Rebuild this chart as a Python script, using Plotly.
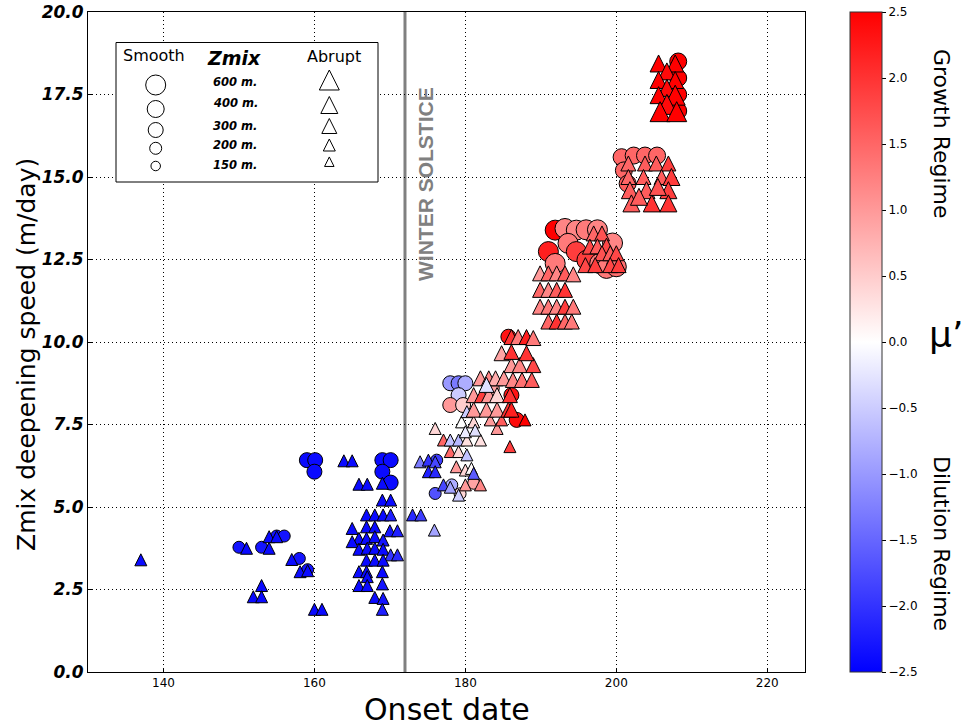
import plotly.graph_objects as go

# ---------------- data ----------------
# Smooth onsets (circles): onset day, deepening speed (m/day), mu', Zmix (m)
smooth_day = [150.0, 153.0, 155.0, 156.0, 158.0, 159.1, 159.0, 160.1, 160.0, 169.0, 170.1, 169.0, 170.1,
              176.2, 176.0, 178.2, 179.3, 181.1,
              178.0, 179.1, 180.0, 179.1, 178.0, 179.7, 183.5, 186.1, 186.8, 185.7,
              191.9, 193.2, 194.7, 196.0, 197.5, 191.0, 191.9, 193.6, 194.7, 196.1, 197.8, 198.7, 200.0, 199.5,
              200.7, 202.3, 203.8, 205.4, 201.0, 201.5,
              208.2, 208.2, 208.2, 208.2]
smooth_speed = [3.78, 3.78, 4.12, 4.12, 3.44, 3.10, 6.42, 6.42, 6.07, 6.42, 6.42, 6.07, 5.74,
                6.42, 5.41, 5.67, 5.40, 5.72,
                8.75, 8.75, 8.75, 8.39, 8.09, 8.09, 8.60, 8.39, 7.64, 10.16,
                13.39, 13.44, 13.39, 13.40, 13.40, 12.74, 12.38, 12.99, 12.74, 12.48, 12.38, 12.23, 12.28, 13.00,
                15.60, 15.65, 15.65, 15.65, 15.20, 14.80,
                18.50, 18.00, 17.50, 17.00]
smooth_mu = [-2.3, -2.3, -2.3, -2.3, -2.3, -2.3, -2.4, -2.4, -2.4, -2.4, -2.4, -2.4, -2.4,
             -1.9, -1.7, -0.8, 0.4, 0.9,
             -1.0, -1.3, -0.8, -0.5, 1.0, 0.5, 0.9, 2.3, 2.4, 2.3,
             2.5, 1.2, 1.2, 1.3, 1.2, 2.2, 1.3, 1.3, 1.9, 1.9, 1.3, 1.3, 1.4, 1.2,
             1.5, 1.5, 1.5, 1.5, 1.5, 1.6,
             2.5, 2.5, 2.5, 2.5]
smooth_zmix = [200, 200, 200, 200, 200, 200, 300, 300, 300, 300, 300, 300, 300,
               200, 200, 200, 200, 200,
               300, 300, 300, 300, 300, 300, 300, 300, 300, 300,
               600, 600, 600, 600, 600, 600, 600, 600, 600, 600, 600, 600, 600, 600,
               400, 400, 400, 400, 400, 400,
               400, 400, 400, 400]

# Abrupt onsets (triangles)
abrupt_day = [137.0, 151.0, 154.0, 154.0, 155.0, 157.0, 158.1, 159.1, 153.0, 151.9, 153.0, 160.0, 161.0,
              163.9, 165.0, 165.9, 167.0, 169.0, 169.0, 170.1, 166.9, 168.0, 169.1, 170.1,
              165.0, 166.9, 168.0, 170.0, 171.0, 165.9, 166.9, 168.0, 169.1, 165.0,
              165.9, 167.0, 168.0, 169.1, 170.1, 171.0, 166.9, 168.0, 169.1, 165.9, 166.9, 169.0,
              167.0, 165.9, 167.0, 169.0, 168.0, 169.1, 169.0, 173.0, 174.1, 175.9,
              174.0, 175.1, 176.0, 175.1, 176.0, 177.1, 178.0, 179.1, 180.0, 182.0,
              178.8, 180.0, 180.8, 181.1, 178.0, 179.1, 180.2, 176.0, 177.1, 178.0, 179.1, 180.2, 182.0,
              179.5, 181.1, 180.0, 181.3, 184.2, 183.3, 184.8, 187.9, 185.9, 180.2,
              181.1, 182.8, 184.2, 185.7, 186.1, 181.1, 182.2, 183.1, 184.2, 185.9,
              182.0, 183.1, 184.0, 185.1, 182.8, 186.3, 187.5, 188.8,
              186.1, 187.2, 189.0, 184.8, 186.1, 188.1, 186.1, 187.0, 188.1, 189.0,
              189.9, 191.0, 192.1, 193.2, 194.3, 189.9, 191.0, 192.1, 193.2,
              189.9, 191.0, 192.1, 193.2, 194.3, 191.0, 192.1, 193.2, 194.1,
              197.0, 198.1, 196.5, 197.5, 198.7, 198.1, 199.2, 200.0, 195.9, 197.2, 199.2, 200.3,
              201.6, 203.8, 205.3, 206.9, 201.6, 203.6, 206.0, 207.3, 201.8, 204.0, 206.9,
              202.0, 204.7, 206.9, 203.0, 205.5,
              205.6, 207.8, 206.7, 205.6, 207.8, 206.7, 205.6, 207.8, 206.7, 205.8, 208.0]
abrupt_speed = [3.40, 3.75, 3.75, 4.10, 4.10, 3.41, 3.04, 3.07, 2.62, 2.28, 2.28, 1.90, 1.90,
                6.40, 6.40, 5.69, 5.69, 5.72, 5.21, 5.21, 4.76, 4.76, 4.76, 4.76,
                4.35, 4.40, 4.40, 4.28, 4.28, 4.05, 4.05, 4.10, 4.00, 3.95,
                3.72, 3.75, 3.75, 3.72, 3.55, 3.55, 3.39, 3.39, 3.39, 3.04, 3.04, 3.04,
                2.89, 2.62, 2.62, 2.67, 2.26, 2.23, 1.90, 4.76, 4.76, 4.30,
                6.37, 6.42, 6.37, 6.07, 6.07, 5.67, 5.60, 5.36, 5.67, 5.67,
                6.22, 6.12, 6.17, 6.02, 6.68, 6.68, 6.58, 7.38, 7.03, 7.03, 7.03, 7.03, 7.03,
                7.58, 7.58, 7.28, 7.33, 7.38, 7.64, 7.64, 7.64, 6.83, 7.89,
                7.95, 7.95, 7.95, 7.95, 7.95, 8.39, 8.39, 8.39, 8.39, 8.39,
                8.90, 8.90, 8.90, 8.90, 8.70, 8.85, 8.85, 8.85,
                9.30, 9.30, 9.30, 9.66, 9.70, 9.66, 10.15, 10.15, 10.15, 10.12,
                12.08, 12.08, 12.08, 12.08, 12.05, 11.58, 11.58, 11.58, 11.58,
                11.07, 11.07, 11.07, 11.07, 11.07, 10.62, 10.62, 10.62, 10.62,
                13.29, 13.29, 12.89, 12.90, 12.92, 12.69, 12.69, 12.69, 12.33, 12.33, 12.33, 12.33,
                15.41, 15.41, 15.41, 15.41, 15.00, 15.00, 15.00, 15.00, 14.60, 14.60, 14.60,
                14.20, 14.20, 14.20, 14.40, 14.70,
                18.44, 18.44, 18.20, 17.94, 17.94, 17.70, 17.48, 17.48, 17.20, 16.98, 16.98]
abrupt_mu = [-2.4, -2.4, -2.4, -2.4, -2.4, -2.4, -2.4, -2.4, -2.4, -2.4, -2.4, -2.4, -2.4,
             -2.4, -2.4, -2.4, -2.4, -2.4, -2.4, -2.4, -2.4, -2.4, -2.4, -2.2,
             -2.4, -2.4, -2.4, -2.3, -2.2, -2.4, -2.4, -2.4, -2.3, -2.4,
             -2.4, -2.4, -2.4, -2.4, -2.0, -2.1, -2.4, -2.4, -2.4, -2.4, -2.4, -2.4,
             -2.4, -2.4, -2.4, -2.3, -2.4, -2.3, -2.2, -2.1, -1.9, -0.9,
             -1.3, -2.0, -1.8, -2.2, -2.1, -1.8, -0.9, -0.5, 1.0, 1.2,
             1.0, 0.4, 0.05, -1.6, 1.5, 0.4, -0.6, 0.4, 1.5, -0.6, -0.7, 0.3, 0.3,
             0.0, 0.4, -0.2, -0.3, 1.0, 1.0, 1.6, 2.5, 1.9, -0.5,
             1.0, 1.0, 1.0, 2.0, 2.2, 1.0, 1.9, 1.0, 0.4, 2.0,
             1.0, 1.2, 0.8, 1.0, -0.3, 1.2, 1.4, 1.6,
             1.0, 1.2, 1.8, 0.9, 2.0, 2.0, 2.0, 1.3, 2.2, 1.3,
             1.0, 1.5, 1.2, 1.6, 1.2, 1.5, 1.2, 1.6, 2.0,
             1.2, 1.3, 1.2, 1.9, 1.3, 1.5, 2.0, 1.5, 1.3,
             1.5, 1.7, 1.8, 1.6, 1.8, 1.7, 1.6, 1.8, 1.8, 1.9, 1.8, 1.9,
             1.5, 1.6, 1.6, 1.9, 1.5, 1.6, 1.6, 1.9, 1.6, 1.6, 1.9,
             1.6, 2.0, 2.0, 1.6, 1.7,
             2.5, 2.5, 2.4, 2.5, 2.5, 2.4, 2.5, 2.5, 2.4, 2.5, 2.5]
abrupt_zmix = [200] * 56 + [200] * 33 + [300] * 65 + [400] * 16 + [600] * 11

# legend sizes
legend_zmix = [600, 400, 300, 200, 150]
legend_labels = ["600 m.", "400 m.", "300 m.", "200 m.", "150 m."]

colorbar_ticks = [-2.5, -2.0, -1.5, -1.0, -0.5, 0.0, 0.5, 1.0, 1.5, 2.0, 2.5]
x_ticks = [140, 160, 180, 200, 220]
y_ticks = [0, 2.5, 5, 7.5, 10, 12.5, 15, 17.5, 20]
solstice_day = 172

# ---------------- style ----------------
SIZE_PX = {150: 9.5, 200: 12, 300: 15, 400: 17, 600: 20}
BWR = [[0.0, "rgb(0,0,255)"], [0.5, "rgb(255,255,255)"], [1.0, "rgb(255,0,0)"]]
SANS = "DejaVu Sans, sans-serif"
W, H = 964, 728
PLOT_L, PLOT_R, PLOT_T, PLOT_B = 88, 805, 12, 672
L, T = PLOT_L, PLOT_T
R, B = W - PLOT_R, H - PLOT_B
PW, PH = PLOT_R - PLOT_L, PLOT_B - PLOT_T


def px(x):
    return (x - PLOT_L) / PW


def py(y):
    return (PLOT_B - y) / PH


fig = go.Figure()

s_sizes = [SIZE_PX[z] for z in smooth_zmix]
fig.add_trace(go.Scatter(
    x=smooth_day, y=smooth_speed, mode="markers", name="Smooth",
    marker=dict(symbol="circle", size=s_sizes, color=smooth_mu, colorscale=BWR, opacity=1,
                cmin=-2.5, cmax=2.5, line=dict(color="black", width=1),
                showscale=True,
                colorbar=dict(x=px(850), xanchor="left", xpad=0, ypad=0, y=0.5, yanchor="middle",
                              len=1, lenmode="fraction", thickness=32,
                              outlinewidth=1, outlinecolor="#333",
                              tickvals=colorbar_ticks, tickformat=".1f", ticks="outside",
                              ticklen=4, tickcolor="black", ticklabeloverflow="allow",
                              tickfont=dict(family=SANS, size=12, color="black"))),
    showlegend=False))

a_sizes = [SIZE_PX[z] for z in abrupt_zmix]
fig.add_trace(go.Scatter(
    x=abrupt_day, y=abrupt_speed, mode="markers", name="Abrupt",
    marker=dict(symbol="arrow-down", angle=180, standoff=[s / 2 for s in a_sizes],
                size=a_sizes, color=abrupt_mu, colorscale=BWR, opacity=1,
                cmin=-2.5, cmax=2.5, line=dict(color="black", width=1), showscale=False),
    showlegend=False))

shapes = []
# winter solstice line
shapes.append(dict(type="line", xref="x", yref="paper", x0=solstice_day, x1=solstice_day,
                   y0=0, y1=1, line=dict(color="#808080", width=3), layer="between"))
# legend box
shapes.append(dict(type="rect", xref="paper", yref="paper", x0=px(116), x1=px(378),
                   y0=py(182), y1=py(42.5), line=dict(color="black", width=1),
                   fillcolor="white", layer="above"))
circ_y = [85, 109, 130, 148.3, 166]
tri_y = [80, 105, 126, 145, 161.7]
lab_y = [81.7, 102.7, 125.7, 145, 165]


def ann(x, y, text, font, angle=0):
    return dict(x=px(x), y=py(y), xref="paper", yref="paper", text=text, showarrow=False,
                xanchor="center", yanchor="middle", textangle=angle, font=font)


annotations = []
for z, cy, ty, ly, lab in zip(legend_zmix, circ_y, tri_y, lab_y, legend_labels):
    r = SIZE_PX[z] / 2
    cx = 155.7
    shapes.append(dict(type="circle", xref="paper", yref="paper",
                       x0=px(cx - r), x1=px(cx + r), y0=py(cy + r), y1=py(cy - r),
                       line=dict(color="black", width=1), fillcolor="white", layer="above"))
    tx = 329.3
    path = "M {:.5f} {:.5f} L {:.5f} {:.5f} L {:.5f} {:.5f} Z".format(
        px(tx - r), py(ty + r), px(tx + r), py(ty + r), px(tx), py(ty - r))
    shapes.append(dict(type="path", xref="paper", yref="paper", path=path,
                       line=dict(color="black", width=1), fillcolor="white", layer="above"))
    annotations.append(ann(235, ly, lab, dict(family=SANS, size=11.5, color="black",
                                              weight="bold", style="italic")))

annotations += [
    ann(154.3, 55, "Smooth", dict(family=SANS, size=16, color="black")),
    ann(334, 56.7, "Abrupt", dict(family=SANS, size=16, color="black")),
    ann(234, 58.3, "Zmix", dict(family=SANS, size=19, color="black", weight="bold", style="italic")),
    ann(425, 184, "WINTER SOLSTICE", dict(family="Liberation Sans, Arial, sans-serif", size=21,
                                           color="#808080", weight="bold"), -90),
    ann(942, 134, "Growth Regime", dict(family=SANS, size=22, color="black"), 90),
    ann(942, 543, "Dilution Regime", dict(family=SANS, size=22, color="black"), 90),
    ann(946, 334, "\u03bc\u2019", dict(family=SANS, size=36, color="black")),
    ann(447, 709, "Onset date", dict(family=SANS, size=30, color="black")),
    ann(26, 355, "Zmix deepening speed (m/day)", dict(family=SANS, size=25, color="black"), -90),
]

fig.update_layout(
    width=W, height=H, margin=dict(l=L, r=R, t=T, b=B, pad=0, autoexpand=False),
    plot_bgcolor="white", paper_bgcolor="white",
    shapes=shapes, annotations=annotations,
    xaxis=dict(range=[130, 225], tickvals=x_ticks, showgrid=True, gridcolor="black",
               griddash="1px,3px", gridwidth=1, showline=True, mirror=True, linecolor="black",
               linewidth=1, ticks="inside", ticklen=4, tickcolor="black", zeroline=False,
               automargin=False, ticklabeloverflow="allow",
               tickfont=dict(family=SANS, size=12, color="black")),
    yaxis=dict(range=[0, 20], tickvals=y_ticks, tickformat=".1f", showgrid=True, gridcolor="black",
               griddash="1px,3px", gridwidth=1, showline=True, mirror=True, linecolor="black",
               linewidth=1, ticks="inside", ticklen=4, tickcolor="black", zeroline=False,
               automargin=False, ticklabeloverflow="allow",
               tickfont=dict(family=SANS, size=17, color="black", weight="bold", style="italic")),
)

fig.write_html("out.html", config={"displayModeBar": False},
               post_script="document.body.style.margin='0';document.body.style.overflow='hidden';")
